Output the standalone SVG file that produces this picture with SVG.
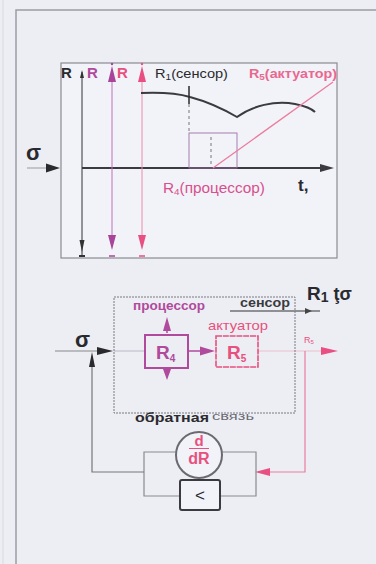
<svg xmlns="http://www.w3.org/2000/svg" width="376" height="564" viewBox="0 0 376 564">
<style>
.t{font-family:"Liberation Sans","DejaVu Sans",sans-serif}
.b{font-weight:bold}
.blk{fill:#2a2a2e}
.mag{fill:#b04a9c}
.pink{fill:#e8507e}
.ln{fill:none;stroke-linecap:butt}
</style>
<rect x="0" y="0" width="376" height="564" fill="#eceef4"/>
<line x1="3" y1="0" x2="3" y2="564" stroke="#d8dae0" stroke-width="1"/>
<path d="M16,564 V10 H376" fill="none" stroke="#9a9ca4" stroke-width="1.5"/>

<!-- top chart -->
<g id="chart">
  <rect x="61" y="63" width="276" height="195" fill="#f1f3f8" stroke="#8a8c92" stroke-width="1.2"/>
  <text class="t b blk" x="61" y="78" font-size="15">R</text>
  <text class="t b mag" x="87" y="78" font-size="15">R</text>
  <text class="t b pink" x="117" y="78" font-size="15">R</text>
  <text class="t blk" x="155" y="78" font-size="13" textLength="73" lengthAdjust="spacingAndGlyphs">R<tspan font-size="9" dy="2">1</tspan><tspan dy="-2">(сенсор)</tspan></text>
  <text class="t b pink" x="249" y="78" font-size="13" textLength="88" lengthAdjust="spacingAndGlyphs" opacity="0.85">R<tspan font-size="9" dy="2">5</tspan><tspan dy="-2">(актуатор)</tspan></text>
  <text class="t pink" x="163" y="193" font-size="14" textLength="102" lengthAdjust="spacingAndGlyphs" style="fill:#d8508e">R<tspan font-size="9" dy="2">4</tspan><tspan dy="-2">(процессор)</tspan></text>
  <text class="t b blk" x="298" y="191" font-size="17">t,</text>
  <text class="t b blk" x="26" y="160" font-size="22">σ</text>
</g>

<g id="connectors">
  <!-- top chart axes -->
  <line x1="82" y1="72" x2="82" y2="256" stroke="#333" stroke-width="1"/>
  <polygon points="82,70 80,78 84,78" fill="#333"/>
  <polygon points="82,252 79.5,240 84.5,240" fill="#333"/>
  <line x1="79" y1="256" x2="85" y2="256" stroke="#333" stroke-width="2"/>
  <line x1="82" y1="168" x2="326" y2="168" stroke="#3a3a40" stroke-width="2"/>
  <polygon points="334,168 320,164 320,172" fill="#3a3a40"/>
  <line x1="27" y1="168" x2="48" y2="168" stroke="#9a9aa0" stroke-width="1"/>
  <polygon points="60,168 46,163.5 46,172.5" fill="#2a2a2e"/>
  <!-- magenta R line -->
  <line x1="112" y1="80" x2="112" y2="238" stroke="#c070b8" stroke-width="1"/>
  <polygon points="112,66 108,82 116,82" fill="#a8449a"/>
  <polygon points="112,250 108,235 116,235" fill="#a8449a"/>
  <circle cx="112" cy="64" r="1.2" fill="#a8449a"/>
  <line x1="109" y1="256" x2="115" y2="256" stroke="#a8449a" stroke-width="1.5"/>
  <!-- pink R line -->
  <line x1="142" y1="80" x2="142" y2="238" stroke="#ee8aa8" stroke-width="1"/>
  <polygon points="142,66 138,82 146,82" fill="#ea4f82"/>
  <polygon points="142,250 138,235 146,235" fill="#ea4f82"/>
  <circle cx="142" cy="64" r="1.2" fill="#ea4f82"/>
  <line x1="139" y1="256" x2="145" y2="256" stroke="#ea4f82" stroke-width="1.5"/>
  <!-- curve -->
  <path class="ln" d="M141,93 C165,92 180,94 190,97 C205,101 225,110 237,117 C252,106 275,100 295,104 C305,106 312,109 315,112" stroke="#3a3a40" stroke-width="2"/>
  <line x1="189" y1="86" x2="189" y2="104" stroke="#2a2a2e" stroke-width="1.5"/>
  <line x1="189" y1="104" x2="189" y2="133" stroke="#777" stroke-width="1" stroke-dasharray="3,3"/>
  <rect x="189" y="133" width="48" height="35" fill="none" stroke="#a070a8" stroke-width="0.9"/>
  <line x1="211" y1="137" x2="211" y2="165" stroke="#777" stroke-width="1" stroke-dasharray="3,3"/>
  <line x1="213" y1="168" x2="333" y2="82" stroke="#ec7c9c" stroke-width="1.3"/>

  <!-- bottom diagram -->
  <line x1="55" y1="351" x2="100" y2="351" stroke="#888" stroke-width="1"/>
  <polygon points="113,351 97,347 97,355" fill="#2a2a2e"/>
  <line x1="114" y1="351" x2="145" y2="351" stroke="#b8b8c4" stroke-width="1"/>
  <line x1="188" y1="351" x2="202" y2="351" stroke="#b04a9c" stroke-width="1.5"/>
  <polygon points="215,351 200,346.5 200,355.5" fill="#b04a9c"/>
  <line x1="258" y1="351" x2="322" y2="351" stroke="#ecc0cc" stroke-width="1"/>
  <polygon points="338,351 321,347 321,355" fill="#ea4f82"/>
  <line x1="167" y1="333" x2="167" y2="325" stroke="#b04a9c" stroke-width="1.5"/>
  <polygon points="167,317 163,331 171,331" fill="#b04a9c"/>
  <line x1="167" y1="368" x2="167" y2="372" stroke="#b04a9c" stroke-width="1.5"/>
  <polygon points="167,380 163,369 171,369" fill="#b04a9c"/>
  <line x1="230" y1="311" x2="320" y2="311" stroke="#333" stroke-width="1"/>
  <polygon points="312,311 305,308 305,314" fill="#444"/>
  <!-- feedback -->
  <path class="ln" d="M305,351 V472 H268" stroke="#ec7c9c" stroke-width="1.2"/>
  <polygon points="255,472 270,468 270,476" fill="#ea4f82"/>
  <path class="ln" d="M176,452 H144 V496 H180 M222,452 H256 V496 H220" stroke="#8a8a90" stroke-width="1.2"/>
  <path class="ln" d="M144,472 H92 V366" stroke="#777" stroke-width="1.2"/>
  <polygon points="92,352 89,367 95,367" fill="#2a2a2e"/>
</g>

<g id="frame">
  <rect x="114" y="297" width="181" height="116" fill="none" stroke="#7a7a82" stroke-width="1" stroke-dasharray="2,1"/>
</g>

<g id="sigma-in">
  <text class="t b blk" x="75" y="347" font-size="22">σ</text>
</g>

<g id="out">
  <text class="t b blk" x="307" y="300" font-size="19">R<tspan font-size="14" dy="2">1</tspan><tspan dy="-2" font-size="18"> ţσ</tspan></text>
</g>

<g id="sensor">
  <text class="t b" x="240" y="307" font-size="12" fill="#3a3a40" textLength="50" lengthAdjust="spacingAndGlyphs">сенсор</text>
</g>

<g id="R4">
  <text class="t b mag" x="133" y="310" font-size="12.5" textLength="72" lengthAdjust="spacingAndGlyphs">процессор</text>
  <rect x="145" y="335" width="43" height="33" fill="none" stroke="#b04a9c" stroke-width="2"/>
  <text class="t b mag" x="156" y="359" font-size="19">R<tspan font-size="10" dy="3">4</tspan></text>
</g>

<g id="R5">
  <text class="t pink" x="208" y="330" font-size="13" textLength="60" lengthAdjust="spacingAndGlyphs">актуатор</text>
  <rect x="216" y="336" width="42" height="31" fill="none" stroke="#e8507e" stroke-width="1.6" stroke-dasharray="6,0.8"/>
  <text class="t b pink" x="227" y="359" font-size="19">R<tspan font-size="10" dy="3">5</tspan></text>
  <text class="t pink" x="304" y="343" font-size="9">R<tspan font-size="6" dy="1">5</tspan></text>
</g>

<g id="derivative">
  <text class="t b blk" x="135" y="422" font-size="13" textLength="74" lengthAdjust="spacingAndGlyphs">обратная</text>
  <text class="t" x="212" y="420" font-size="11" fill="#6a6a72" textLength="42" lengthAdjust="spacingAndGlyphs">связь</text>
  <circle cx="199" cy="455" r="23" fill="#f1f3f8" stroke="#6a6a70" stroke-width="2"/>
  <text class="t b pink" x="199" y="446" font-size="15" text-anchor="middle">d</text>
  <line x1="189" y1="448.5" x2="209" y2="448.5" stroke="#e8507e" stroke-width="1"/>
  <text class="t b pink" x="199" y="464" font-size="16" text-anchor="middle">dR</text>
</g>

<g id="compare">
  <rect x="180" y="480" width="40" height="30" rx="2" fill="#f1f3f8" stroke="#3a3a40" stroke-width="2"/>
  <text class="t blk" x="200" y="501" font-size="17" text-anchor="middle">&lt;</text>
</g>
</svg>
